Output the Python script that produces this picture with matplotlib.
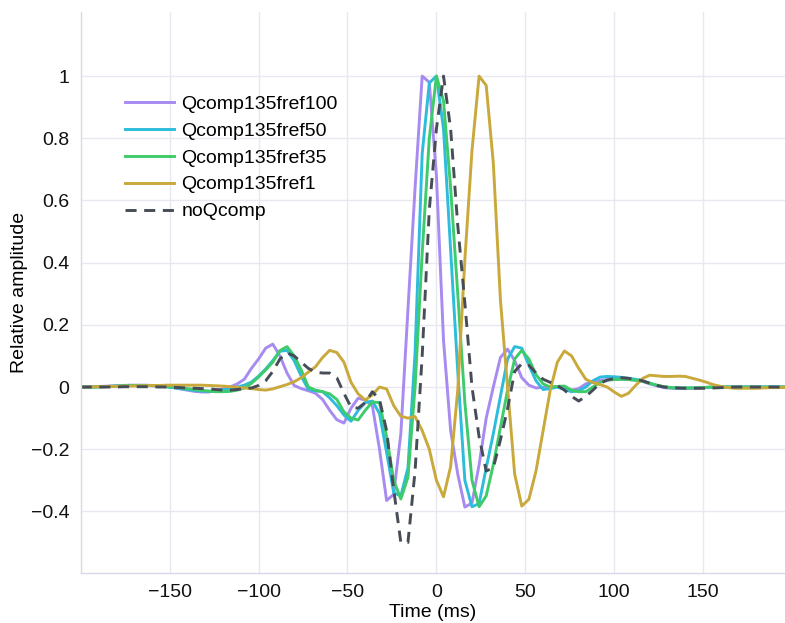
import numpy as np
import matplotlib
matplotlib.use("Agg")
import matplotlib.pyplot as plt

plt.rcParams['font.family'] = ['Liberation Sans', 'DejaVu Sans']

# time axis, 4 ms sampling
time_ms = np.arange(-200, 200, 4)

qcomp_fref100 = [
    0.000, 0.000, 0.001, 0.002, 0.003, 0.004, 0.005, 0.006, 0.006, 0.006,
    0.005, 0.003, 0.001, -0.002, -0.006, -0.010, -0.014, -0.016, -0.016, -0.012,
    -0.006, 0.000, 0.010, 0.025, 0.060, 0.090, 0.125, 0.138, 0.100, 0.045,
    0.005, -0.005, -0.012, -0.020, -0.040, -0.075, -0.105, -0.116, -0.068, -0.036,
    -0.042, -0.060, -0.200, -0.365, -0.345, -0.150, 0.250, 0.640, 1.000, 0.980,
    0.680, 0.150, -0.140, -0.280, -0.386, -0.373, -0.250, -0.100, 0.000, 0.095,
    0.122, 0.085, 0.030, 0.006, -0.003, -0.001, 0.000, 0.000, -0.005, -0.010,
    -0.005, 0.010, 0.018, 0.022, 0.024, 0.025, 0.025, 0.024, 0.022, 0.018,
    0.010, 0.004, -0.002, -0.004, -0.005, -0.005, -0.004, -0.003, -0.002, -0.001,
    0.000, 0.000, 0.000, 0.000, 0.000, 0.000, 0.000, 0.000, 0.000, 0.000,
]

qcomp_fref50 = [
    0.000, 0.000, 0.000, 0.001, 0.002, 0.003, 0.004, 0.005, 0.005, 0.005,
    0.004, 0.003, 0.001, -0.002, -0.005, -0.008, -0.011, -0.013, -0.014, -0.012,
    -0.009, -0.005, 0.000, 0.006, 0.016, 0.035, 0.058, 0.085, 0.115, 0.118,
    0.085, 0.035, -0.008, -0.012, -0.015, -0.035, -0.060, -0.090, -0.110, -0.075,
    -0.050, -0.045, -0.085, -0.210, -0.340, -0.350, -0.260, 0.110, 0.750, 0.978,
    1.000, 0.830, 0.440, 0.050, -0.300, -0.385, -0.375, -0.260, -0.150, -0.030,
    0.090, 0.130, 0.125, 0.070, 0.020, -0.008, -0.005, 0.000, -0.008, -0.015,
    -0.012, 0.000, 0.020, 0.032, 0.034, 0.033, 0.031, 0.028, 0.025, 0.020,
    0.012, 0.005, 0.000, -0.002, -0.003, -0.003, -0.003, -0.002, -0.001, 0.000,
    0.000, 0.000, 0.000, 0.000, 0.000, 0.000, 0.000, 0.000, 0.000, 0.000,
]

qcomp_fref35 = [
    0.000, 0.000, 0.000, 0.001, 0.002, 0.003, 0.004, 0.005, 0.005, 0.005,
    0.005, 0.004, 0.002, 0.000, -0.002, -0.005, -0.008, -0.011, -0.013, -0.015,
    -0.015, -0.014, -0.010, -0.003, 0.012, 0.032, 0.055, 0.080, 0.117, 0.130,
    0.100, 0.055, 0.000, -0.010, -0.015, -0.022, -0.040, -0.080, -0.100, -0.106,
    -0.075, -0.048, -0.050, -0.160, -0.300, -0.360, -0.290, 0.000, 0.430, 0.800,
    1.000, 0.920, 0.640, 0.300, -0.050, -0.300, -0.385, -0.350, -0.250, -0.130,
    -0.010, 0.090, 0.118, 0.090, 0.040, 0.010, 0.000, 0.002, 0.003, -0.010,
    -0.015, -0.015, 0.000, 0.015, 0.022, 0.024, 0.025, 0.024, 0.022, 0.018,
    0.012, 0.006, 0.001, -0.002, -0.003, -0.003, -0.003, -0.002, -0.001, 0.000,
    0.000, 0.000, 0.000, 0.000, 0.000, 0.000, 0.000, 0.000, 0.000, 0.000,
]

qcomp_fref1 = [
    0.000, 0.000, 0.001, 0.001, 0.002, 0.002, 0.003, 0.003, 0.004, 0.004,
    0.005, 0.005, 0.006, 0.006, 0.006, 0.006, 0.006, 0.006, 0.005, 0.004,
    0.003, 0.001, -0.001, -0.003, -0.005, -0.008, -0.010, -0.006, 0.001, 0.008,
    0.017, 0.030, 0.048, 0.065, 0.095, 0.118, 0.111, 0.080, 0.015, -0.022,
    -0.042, -0.025, 0.000, -0.006, -0.060, -0.094, -0.100, -0.095, -0.140, -0.200,
    -0.300, -0.353, -0.256, -0.010, 0.410, 0.760, 1.000, 0.970, 0.720, 0.280,
    0.000, -0.280, -0.383, -0.361, -0.270, -0.140, -0.010, 0.080, 0.116, 0.100,
    0.060, 0.025, 0.014, 0.008, 0.000, -0.016, -0.030, -0.020, 0.005, 0.028,
    0.038, 0.036, 0.034, 0.034, 0.035, 0.034, 0.028, 0.022, 0.015, 0.007,
    0.002, -0.002, -0.004, -0.004, -0.004, -0.004, -0.003, -0.002, -0.002, -0.001,
]

no_qcomp = [
    0.000, 0.000, 0.000, 0.000, 0.000, 0.000, 0.001, 0.001, 0.001, 0.001,
    0.001, 0.000, 0.000, -0.001, -0.002, -0.003, -0.004, -0.005, -0.006, -0.008,
    -0.010, -0.010, -0.008, -0.005, -0.003, 0.005, 0.020, 0.050, 0.090, 0.110,
    0.100, 0.080, 0.060, 0.048, 0.045, 0.045, 0.030, -0.020, -0.065, -0.068,
    -0.050, -0.015, -0.040, -0.140, -0.330, -0.500, -0.500, -0.270, 0.100, 0.570,
    0.830, 1.000, 0.830, 0.520, 0.270, 0.000, -0.160, -0.270, -0.260, -0.170,
    -0.070, 0.050, 0.075, 0.070, 0.045, 0.025, 0.015, 0.005, -0.010, -0.030,
    -0.045, -0.030, -0.010, 0.012, 0.022, 0.028, 0.030, 0.028, 0.025, 0.020,
    0.012, 0.005, 0.000, -0.002, -0.003, -0.004, -0.004, -0.004, -0.004, -0.003,
    -0.002, -0.001, 0.000, 0.000, 0.000, 0.000, 0.000, 0.000, 0.000, 0.000,
]

series = [
    ("Qcomp135fref100", qcomp_fref100, "#a78bf0", "-"),
    ("Qcomp135fref50", qcomp_fref50, "#2ebcdc", "-"),
    ("Qcomp135fref35", qcomp_fref35, "#3ecb6a", "-"),
    ("Qcomp135fref1", qcomp_fref1, "#c9a93c", "-"),
    ("noQcomp", no_qcomp, "#474d57", "--"),
]

x_ticks = [-150, -100, -50, 0, 50, 100, 150]
y_ticks = [-0.4, -0.2, 0, 0.2, 0.4, 0.6, 0.8, 1]

fig = plt.figure(figsize=(7.85, 6.23), dpi=100)
ax = fig.add_axes([0.1028, 0.0803, 0.8972, 0.9004])

for name, vals, col, ls in series:
    if ls == "--":
        ax.plot(time_ms, vals, color=col, lw=2.1, ls=(0, (3.8, 2.6)), label=name)
    else:
        ax.plot(time_ms, vals, color=col, lw=2.1, label=name)

ax.set_xlim(-200, 196)
ax.set_ylim(-0.598, 1.206)
ax.set_xticks(x_ticks)
ax.set_yticks(y_ticks)
ax.set_yticklabels(["\u22120.4", "\u22120.2", "0", "0.2", "0.4", "0.6", "0.8", "1"])
ax.tick_params(length=0, labelsize=14, pad=8, colors="#111111")
ax.grid(True, color="#e8e8f0", lw=1.0)
ax.set_axisbelow(True)
for s in ["top", "right"]:
    ax.spines[s].set_visible(False)
for s in ["left", "bottom"]:
    ax.spines[s].set_color("#d8d8ea")
    ax.spines[s].set_linewidth(1.0)

ax.set_xlabel("Time (ms)", fontsize=14, labelpad=2)
ax.set_ylabel("Relative amplitude", fontsize=14, labelpad=2)

ax.legend(loc="upper left", bbox_to_anchor=(0.063, 0.852), frameon=False,
          fontsize=14, handlelength=2.5, handletextpad=0.4, labelspacing=0.48,
          borderaxespad=0, borderpad=0)

fig.savefig("out.png", dpi=100)
